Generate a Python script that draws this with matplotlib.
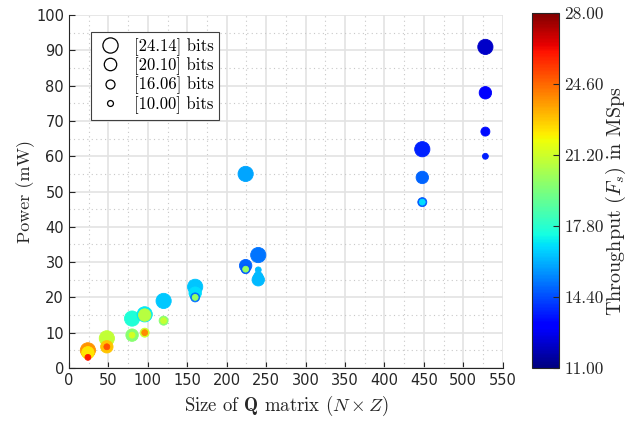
import numpy as np
import matplotlib
matplotlib.use("Agg")
import matplotlib.pyplot as plt
from matplotlib.ticker import MultipleLocator
from matplotlib.lines import Line2D

plt.rcParams['mathtext.fontset'] = 'cm'

# bit widths and their marker areas (pt^2)
bits = ['24.14', '20.10', '16.06', '10.00']
sizes = [120, 80, 42, 18]

# points per bit width: matrix size, power (mW), throughput (MSps)
size_2414 = [24, 48, 80, 96, 120, 160, 224, 240, 448, 528]
pow_2414 = [5, 8.4, 14, 15.2, 19, 23, 55, 32, 62, 91]
thr_2414 = [23.8, 20.9, 17.6, 17.0, 16.5, 16.4, 15.9, 15.1, 13.7, 12.1]

size_2010 = [24, 48, 80, 96, 160, 224, 240, 448, 528]
pow_2010 = [4.3, 6, 9.3, 15, 21.2, 29, 25, 54, 78]
thr_2010 = [22.3, 22.9, 19.7, 20.7, 16.8, 14.8, 16.2, 14.8, 13.0]

size_1606 = [96, 120, 160, 224, 240, 448, 528]
pow_1606 = [10, 13.4, 20, 28, 26, 47, 67]
thr_1606 = [21.2, 19.7, 15.0, 14.6, 16.2, 14.6, 13.3]

size_1000 = [24, 48, 80, 96, 120, 160, 224, 240, 448, 528]
pow_1000 = [3, 6, 9.3, 10, 13.4, 20, 28, 27.8, 47, 60]
thr_1000 = [26.0, 25.0, 21.3, 24.0, 21.0, 20.0, 20.0, 16.2, 16.8, 13.6]

groups = [(size_2414, pow_2414, thr_2414),
          (size_2010, pow_2010, thr_2010),
          (size_1606, pow_1606, thr_1606),
          (size_1000, pow_1000, thr_1000)]

fig = plt.figure(figsize=(6.3, 4.21), dpi=100)
ax = fig.add_axes([0.1095, 0.126, 0.6885, 0.838])
cax = fig.add_axes([0.844, 0.126, 0.044, 0.844])

for (xs, ys, cs), s in zip(groups, sizes):
    sc = ax.scatter(xs, ys, s=s, c=cs, cmap='jet', vmin=11, vmax=28,
                    linewidths=0.6, zorder=3)
    sc.set_edgecolor('face')

ax.set_xlim(0, 550)
ax.set_ylim(0, 100)
ax.xaxis.set_major_locator(MultipleLocator(50))
ax.xaxis.set_minor_locator(MultipleLocator(25))
ax.yaxis.set_major_locator(MultipleLocator(10))
ax.yaxis.set_minor_locator(MultipleLocator(5))
ax.grid(True, which='major', color='#e3e3e3', lw=1.2, zorder=0)
ax.grid(True, which='minor', color='#c8c8c8', lw=0.8, ls=(0, (1, 3)), zorder=0)
ax.set_axisbelow(True)
for sp in ['top', 'right']:
    ax.spines[sp].set_visible(False)
for sp in ['left', 'bottom']:
    ax.spines[sp].set_color('#262626')
ax.tick_params(which='both', direction='in', colors='#262626', labelsize=10.5)
ax.tick_params(which='major', length=4)
ax.tick_params(which='minor', length=0)

ax.set_xlabel(r'Size of $\mathbf{Q}$ matrix $(N\times Z)$', family='cmr10',
              fontsize=13.5, color='#262626', labelpad=4)
ax.set_ylabel('Power (mW)', family='cmr10', fontsize=13, color='#262626',
              labelpad=1)

handles = [Line2D([], [], ls='none', marker='o', markersize=np.sqrt(s),
                  markerfacecolor='none', markeredgecolor='k', markeredgewidth=0.9)
           for s in sizes]
leg = ax.legend(handles, ['[%s] bits' % b for b in bits],
                loc='upper left', bbox_to_anchor=(0.051, 0.952), borderaxespad=0,
                prop={'family': 'cmr10', 'size': 12}, fancybox=False,
                framealpha=1, edgecolor='#404040', handletextpad=0.6,
                labelspacing=0.1, borderpad=0.35, handlelength=1.6)
leg.get_frame().set_linewidth(0.8)

norm = matplotlib.colors.Normalize(vmin=11, vmax=28)
cb = fig.colorbar(matplotlib.cm.ScalarMappable(norm=norm, cmap='jet'), cax=cax)
cticks = [11, 14.4, 17.8, 21.2, 24.6, 28]
cb.set_ticks(cticks)
cb.set_ticklabels(['%.2f' % t for t in cticks])
cb.outline.set_edgecolor('#262626')
cax.tick_params(direction='in', length=4, colors='#262626', labelsize=12.5)
for t in cax.get_yticklabels():
    t.set_family('cmr10')
cb.set_label(r'Throughput $(F_s)$ in MSps', family='cmr10', fontsize=14.5,
             color='#262626')
cax.yaxis.set_label_coords(2.62, 0.47)

fig.savefig('out.png', dpi=100)
